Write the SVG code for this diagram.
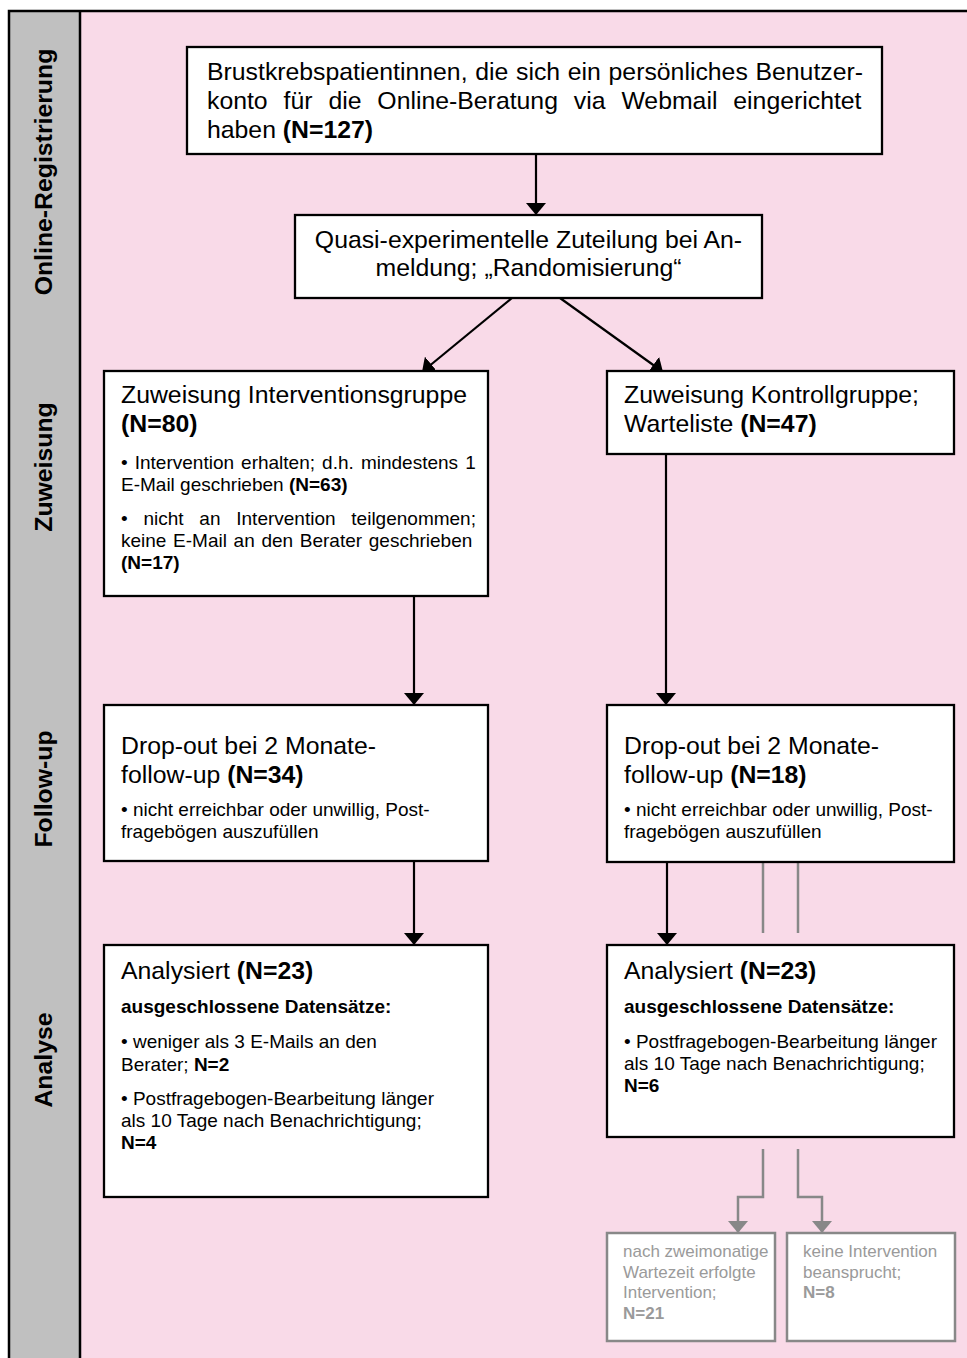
<svg xmlns="http://www.w3.org/2000/svg" width="967" height="1358" viewBox="0 0 967 1358">
<style>
.bg{fill:#f9dae8}
.side{fill:#c0c0c0}
.frame{fill:none;stroke:#000;stroke-width:2.5}
.box{fill:#fff;stroke:#000;stroke-width:2.3}
.gbox{fill:#fff;stroke:#888;stroke-width:2.5}
.t{font-family:"Liberation Sans",Arial,sans-serif;fill:#000}
.h{font-size:24.8px}
.s{font-size:19px}
.g{font-size:17px;fill:#9a9a9a}
.lab{font-family:"Liberation Sans",Arial,sans-serif;font-size:24.8px;font-weight:bold;fill:#000;text-anchor:middle}
.b{font-weight:bold}
.c{stroke:#000;stroke-width:2.2;fill:none}
.gc{stroke:#888;stroke-width:2.5;fill:none}
</style>
<defs>
<marker id="ah" viewBox="0 0 12 20" refX="12" refY="10" markerWidth="12" markerHeight="20" markerUnits="userSpaceOnUse" orient="auto">
<path d="M0,0 L12,10 L0,20 z" fill="#000"/>
</marker>
<marker id="gah" viewBox="0 0 12 20" refX="12" refY="10" markerWidth="12" markerHeight="20" markerUnits="userSpaceOnUse" orient="auto">
<path d="M0,0 L12,10 L0,20 z" fill="#888"/>
</marker>
</defs>

<g id="background">
<rect x="80" y="11" width="887" height="1347" class="bg"/>
<rect x="9" y="11" width="71" height="1347" class="side"/>
<path d="M9,1358 V11 H967" class="frame"/>
<line x1="80" y1="11" x2="80" y2="1358" class="frame"/>
</g>

<g id="lanes">
<text class="lab" transform="translate(52,172) rotate(-90)">Online-Registrierung</text>
<text class="lab" transform="translate(52,467) rotate(-90)">Zuweisung</text>
<text class="lab" transform="translate(52,789) rotate(-90)">Follow-up</text>
<text class="lab" transform="translate(52,1060) rotate(-90)">Analyse</text>
</g>

<g id="connectors">
<line x1="536" y1="154" x2="536" y2="215" class="c" marker-end="url(#ah)"/>
<line x1="512" y1="298" x2="422" y2="372" class="c" marker-end="url(#ah)"/>
<line x1="560" y1="298" x2="663" y2="372" class="c" marker-end="url(#ah)"/>
<line x1="414" y1="596" x2="414" y2="705" class="c" marker-end="url(#ah)"/>
<line x1="666" y1="454" x2="666" y2="705" class="c" marker-end="url(#ah)"/>
<line x1="414" y1="861" x2="414" y2="945" class="c" marker-end="url(#ah)"/>
<line x1="667" y1="862" x2="667" y2="945" class="c" marker-end="url(#ah)"/>
<line x1="763" y1="862" x2="763" y2="933" class="gc"/>
<line x1="798" y1="862" x2="798" y2="933" class="gc"/>
<path d="M763,1149 V1197 H738 V1233" class="gc" marker-end="url(#gah)"/>
<path d="M798,1149 V1197 H822 V1233" class="gc" marker-end="url(#gah)"/>
</g>

<g id="n-registrierung">
<rect x="187" y="47" width="695" height="107" class="box"/>
<text class="t h" x="207" y="80" style="word-spacing:0.8px">Brustkrebspatientinnen, die sich ein persönliches Benutzer-</text>
<text class="t h" x="207" y="109" style="word-spacing:9px">konto für die Online-Beratung via Webmail eingerichtet</text>
<text class="t h" x="207" y="138">haben <tspan class="b">(N=127)</tspan></text>
</g>

<g id="n-zuteilung">
<rect x="295" y="215" width="467" height="83" class="box"/>
<text class="t h" x="528.5" y="248" text-anchor="middle">Quasi-experimentelle Zuteilung bei An-</text>
<text class="t h" x="528.5" y="276" text-anchor="middle">meldung; „Randomisierung“</text>
</g>

<g id="n-interventionsgruppe">
<rect x="104" y="371" width="384" height="225" class="box"/>
<text class="t h" x="121" y="403">Zuweisung Interventionsgruppe</text>
<text class="t h b" x="121" y="432">(N=80)</text>
<text class="t s" x="121" y="469" style="word-spacing:1.8px">• Intervention erhalten; d.h. mindestens 1</text>
<text class="t s" x="121" y="491">E-Mail geschrieben <tspan class="b">(N=63)</tspan></text>
<text class="t s" x="121" y="525" style="word-spacing:10.5px">• nicht an Intervention teilgenommen;</text>
<text class="t s" x="121" y="547" style="word-spacing:1.4px">keine E-Mail an den Berater geschrieben</text>
<text class="t s b" x="121" y="569">(N=17)</text>
</g>

<g id="n-kontrollgruppe">
<rect x="607" y="371" width="347" height="83" class="box"/>
<text class="t h" x="624" y="403">Zuweisung Kontrollgruppe;</text>
<text class="t h" x="624" y="432">Warteliste <tspan class="b">(N=47)</tspan></text>
</g>

<g id="n-dropout-ig">
<rect x="104" y="705" width="384" height="156" class="box"/>
<text class="t h" x="121" y="754">Drop-out bei 2 Monate-</text>
<text class="t h" x="121" y="783">follow-up <tspan class="b">(N=34)</tspan></text>
<text class="t s" x="121" y="816">• nicht erreichbar oder unwillig, Post-</text>
<text class="t s" x="121" y="838">fragebögen auszufüllen</text>
</g>

<g id="n-dropout-kg">
<rect x="607" y="705" width="347" height="157" class="box"/>
<text class="t h" x="624" y="754">Drop-out bei 2 Monate-</text>
<text class="t h" x="624" y="783">follow-up <tspan class="b">(N=18)</tspan></text>
<text class="t s" x="624" y="816">• nicht erreichbar oder unwillig, Post-</text>
<text class="t s" x="624" y="838">fragebögen auszufüllen</text>
</g>

<g id="n-analyse-ig">
<rect x="104" y="945" width="384" height="252" class="box"/>
<text class="t h" x="121" y="979">Analysiert <tspan class="b">(N=23)</tspan></text>
<text class="t s b" x="121" y="1013">ausgeschlossene Datensätze:</text>
<text class="t s" x="121" y="1048">• weniger als 3 E-Mails an den</text>
<text class="t s" x="121" y="1071">Berater; <tspan class="b">N=2</tspan></text>
<text class="t s" x="121" y="1105">• Postfragebogen-Bearbeitung länger</text>
<text class="t s" x="121" y="1127">als 10 Tage nach Benachrichtigung;</text>
<text class="t s b" x="121" y="1149">N=4</text>
</g>

<g id="n-analyse-kg">
<rect x="607" y="945" width="347" height="192" class="box"/>
<text class="t h" x="624" y="979">Analysiert <tspan class="b">(N=23)</tspan></text>
<text class="t s b" x="624" y="1013">ausgeschlossene Datensätze:</text>
<text class="t s" x="624" y="1048">• Postfragebogen-Bearbeitung länger</text>
<text class="t s" x="624" y="1070">als 10 Tage nach Benachrichtigung;</text>
<text class="t s b" x="624" y="1092">N=6</text>
</g>

<g id="n-intervention-nach-wartezeit">
<rect x="607" y="1233" width="168" height="108" class="gbox"/>
<text class="t g" x="623" y="1257">nach zweimonatige</text>
<text class="t g" x="623" y="1278">Wartezeit erfolgte</text>
<text class="t g" x="623" y="1298">Intervention;</text>
<text class="t g b" x="623" y="1319">N=21</text>
</g>

<g id="n-keine-intervention">
<rect x="787" y="1233" width="168" height="108" class="gbox"/>
<text class="t g" x="803" y="1257">keine Intervention</text>
<text class="t g" x="803" y="1278">beansprucht;</text>
<text class="t g b" x="803" y="1298">N=8</text>
</g>
</svg>
